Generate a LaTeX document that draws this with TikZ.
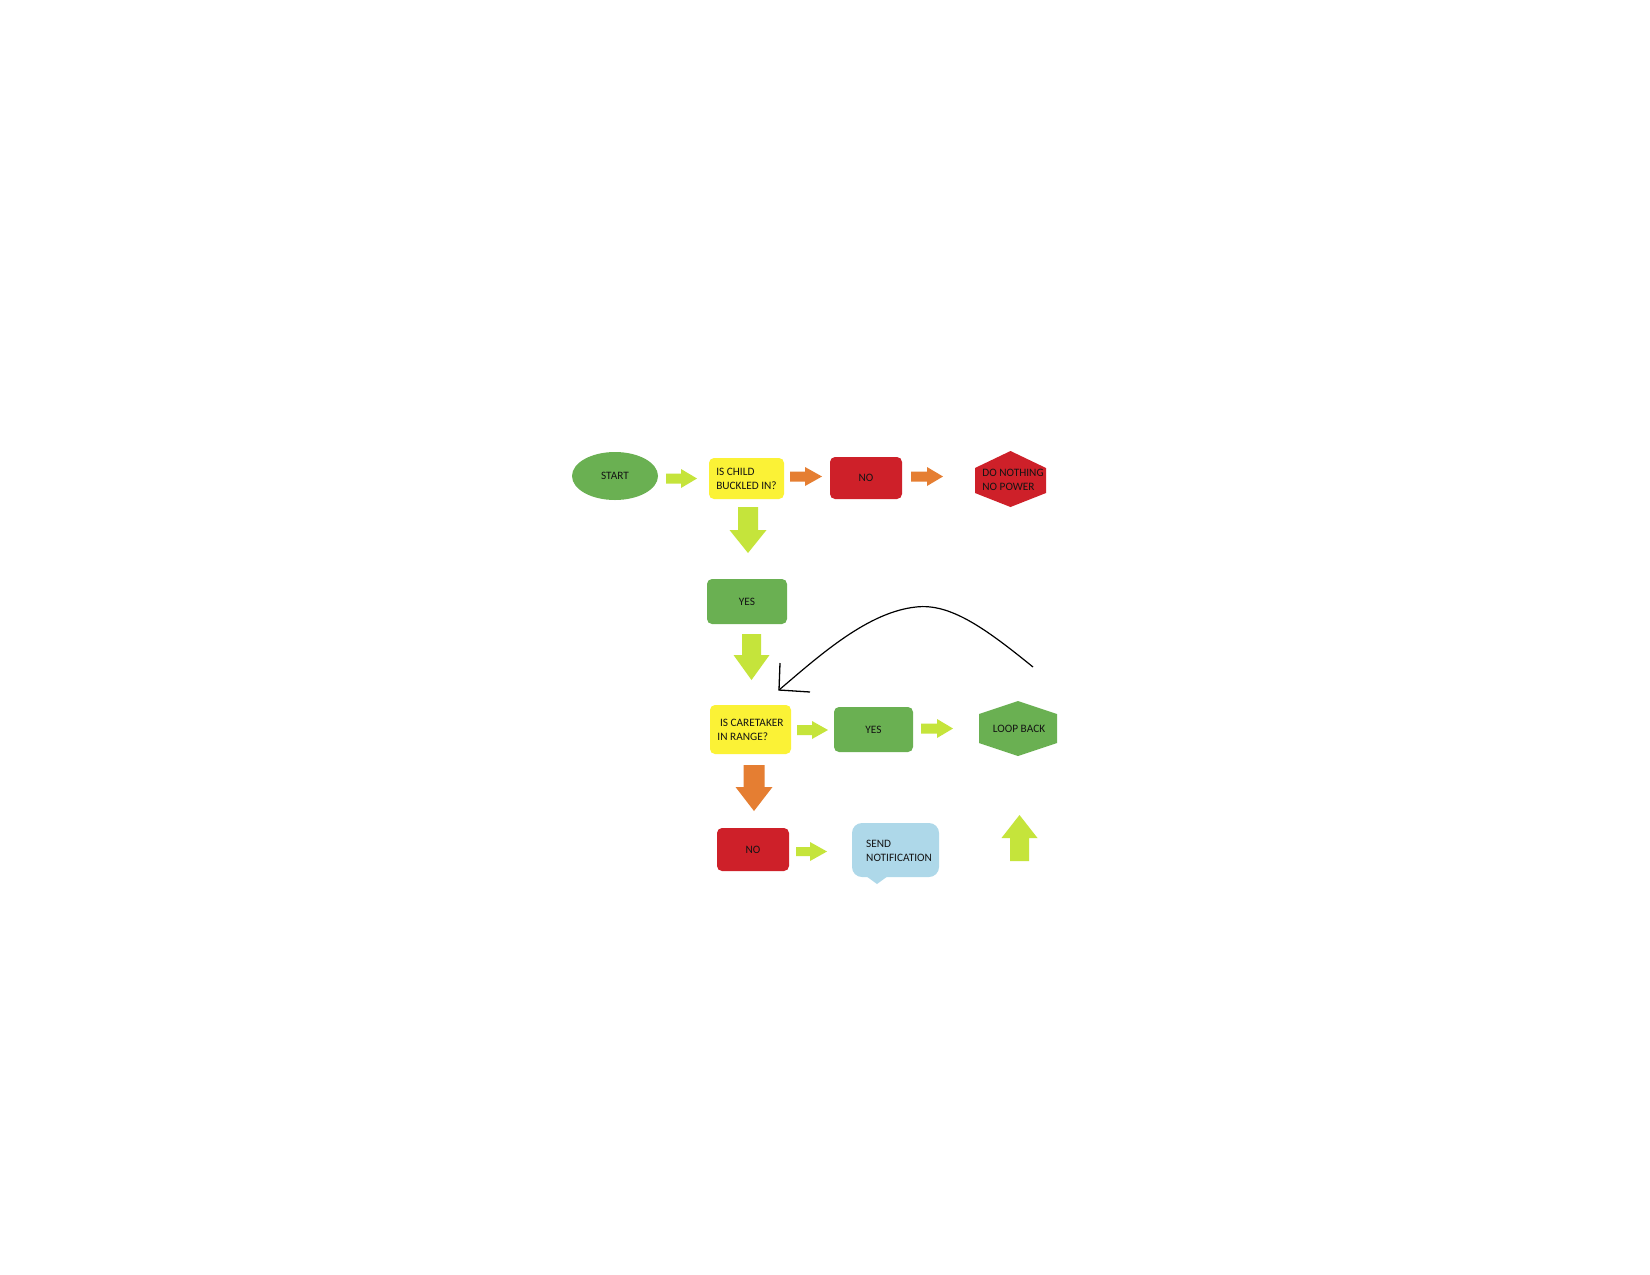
\documentclass[tikz,border=0pt]{standalone}
\usepackage{fontspec}
\setmainfont{Carlito}
\usetikzlibrary{shapes.geometric}
\definecolor{gr}{HTML}{6AB052}
\definecolor{rd}{HTML}{CE2029}
\definecolor{yl}{HTML}{FBF236}
\definecolor{lm}{HTML}{C5E43B}
\definecolor{og}{HTML}{E57E32}
\definecolor{bl}{HTML}{AED8E9}
\definecolor{tx}{HTML}{141414}
\newcommand\RArrow[7]{\fill[#1] (#2,#5-#6) -- (#3,#5-#6) -- (#3,#5-#7) -- (#4,#5) -- (#3,#5+#7) -- (#3,#5+#6) -- (#2,#5+#6) -- cycle;}
\newcommand\DArrow[7]{\fill[#1] (#2-#6,#3) -- (#2+#6,#3) -- (#2+#6,#4) -- (#2+#7,#4) -- (#2,#5) -- (#2-#7,#4) -- (#2-#6,#4) -- cycle;}
\begin{document}
\begin{tikzpicture}[x=1pt,y=-1pt,
  font=\fontsize{11.3}{14}\selectfont, text=tx,
  box/.style={rectangle, rounded corners=5pt, inner sep=0pt, align=left},
  lbl/.style={inner sep=0pt, align=left}]
\useasboundingbox[fill=white] (0,0) rectangle (1650,1275);

% row 1
\node[ellipse, fill=gr, minimum width=86pt, minimum height=48pt, inner sep=0pt] (start) at (615,476) {START};
\node[box, fill=yl, minimum width=75pt, minimum height=41pt] (q1) at (746.5,478.5) {IS CHILD\\BUCKLED IN?};
\node[box, fill=rd, minimum width=72pt, minimum height=42pt] (no1) at (866,478) {NO};
\fill[rd] (1010.5,451) -- (1046,468) -- (1046,493) -- (1010.5,507) -- (975,493) -- (975,468) -- cycle;
\node[lbl] (dn) at (1013,480) {DO NOTHING\\NO POWER};

% column
\node[box, fill=gr, minimum width=80pt, minimum height=45pt] (yes1) at (747,601.5) {YES};
\node[box, fill=yl, minimum width=81pt, minimum height=49pt] (q2) at (750.5,729.5) {\ IS CARETAKER\\IN RANGE?};
\node[box, fill=gr, minimum width=79pt, minimum height=45pt] (yes2) at (873.5,729.5) {YES};
\fill[gr] (1018,701) -- (1057,714) -- (1057,743) -- (1018,756) -- (979,743) -- (979,714) -- cycle;
\node[lbl] (lb) at (1019,729) {LOOP BACK};

% bottom row
\node[box, fill=rd, minimum width=72pt, minimum height=43pt] (no2) at (753,849.5) {NO};
\fill[bl, rounded corners=10pt] (852,823) rectangle (939,877);
\fill[bl] (866,876) -- (888,876) -- (877,884) -- cycle;
\node[lbl, anchor=west] (sn) at (866,850.5) {SEND\\NOTIFICATION};

% block arrows
\RArrow{lm}{666}{681}{697}{478.5}{5}{9.5}
\RArrow{og}{790}{805}{822}{476.5}{5}{9.5}
\RArrow{og}{911}{927}{943}{476.5}{5}{9.5}
\DArrow{lm}{748}{507}{530}{553}{10}{18.5}
\DArrow{lm}{751.5}{634}{655}{680}{9.5}{18}
\RArrow{lm}{797}{812}{828}{730}{5}{9}
\RArrow{lm}{921}{937}{953}{728.5}{5}{9.5}
\DArrow{og}{754}{765}{787}{811}{10.5}{18.5}
\RArrow{lm}{796}{810}{827}{851.5}{4.5}{9.5}
\DArrow{lm}{1019.5}{861}{838}{815}{9.5}{18}

% loop-back curve
\coordinate (cs) at (1033,667);
\coordinate (ce) at (779,690);
\draw[line width=1.2pt] (cs) .. controls (985,628) and (950,603) .. (916,607) .. controls (868,612) and (820,655) .. (ce);
\draw[line width=1.3pt] (780,663) -- (ce) -- (810,692);
\end{tikzpicture}
\end{document}
